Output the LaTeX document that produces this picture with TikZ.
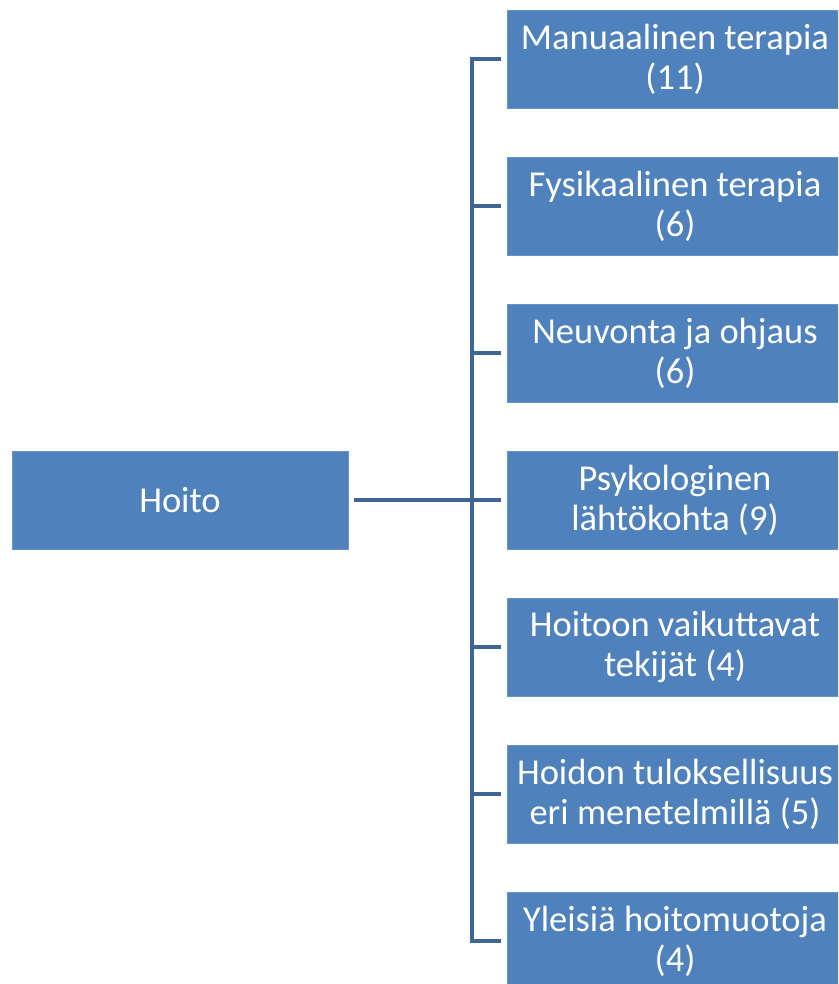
\documentclass[tikz,border=0pt]{standalone}
\usepackage{fontspec}
\setmainfont{Carlito}
\usepackage{tikz}
\usetikzlibrary{positioning,calc}
\definecolor{boxblue}{RGB}{79,129,189}
\definecolor{linkblue}{RGB}{63,101,150}

\begin{document}
\begin{tikzpicture}[x=1pt,y=1pt,
  box/.style={fill=boxblue,draw=boxblue!85!white,line width=0.6pt,minimum width=336pt,minimum height=98pt,
    align=center,text=white,font=\fontsize{36.5}{40}\selectfont,inner sep=0pt,outer sep=0pt},
  link/.style={draw=linkblue,line width=4pt}]
 \useasboundingbox (0,0) rectangle (838,-984);
 \clip (0,0) rectangle (838,-984);
 \node[box] (hoito) at (180,-500) {Hoito};
 \node[box] (t1) at (675,-59) {Manuaalinen terapia\\(11)};
 \node[box] (t2) at (675,-206) {Fysikaalinen terapia\\(6)};
 \node[box] (t3) at (675,-353) {Neuvonta ja ohjaus\\(6)};
 \node[box] (t4) at (675,-500) {Psykologinen\\lähtökohta (9)};
 \node[box] (t5) at (675,-647) {Hoitoon vaikuttavat\\tekijät (4)};
 \node[box] (t6) at (675,-794) {Hoidon tuloksellisuus\\eri menetelmillä (5)};
 \node[box] (t7) at (675,-941) {Yleisiä hoitomuotoja\\(4)};
 \coordinate (spine) at (472,-500);
 % runko ja haarat
 \draw[link] ($(t1.west)+(-6,0)$) -| (spine) |- ($(t7.west)+(-6,0)$);
 \draw[link] ($(hoito.east)+(6,0)$) -- ($(t4.west)+(-6,0)$);
 \foreach \n in {t2,t3,t5,t6}
  \draw[link] (spine |- \n.west) -- ($(\n.west)+(-6,0)$);
\end{tikzpicture}
\end{document}
